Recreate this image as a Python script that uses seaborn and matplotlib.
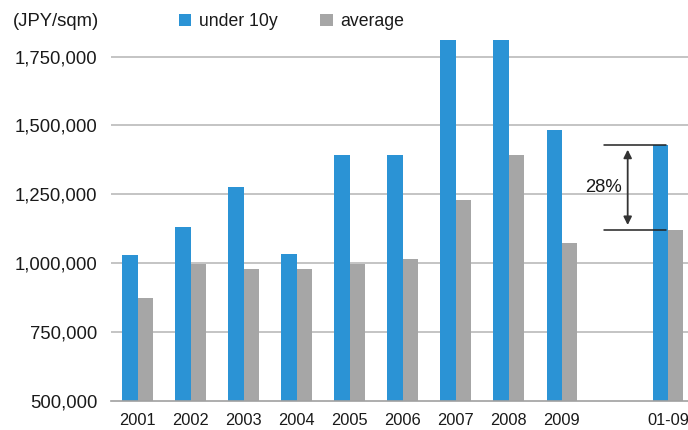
import matplotlib
matplotlib.use("Agg")
import matplotlib.pyplot as plt
import seaborn as sns
import pandas as pd
import numpy as np

categories = ["2001", "2002", "2003", "2004", "2005", "2006", "2007", "2008", "2009", " ", "01-09"]
under_10y = [1030000, 1131000, 1278000, 1031000, 1393000, 1393000, 1810000, 1810000, 1484000, np.nan, 1430000]
average = [871000, 996000, 978000, 978000, 998000, 1016000, 1229000, 1393000, 1072000, np.nan, 1120000]
series_names = ["under 10y", "average"]
y_ticks = [500000, 750000, 1000000, 1250000, 1500000, 1750000]
unit_label = "(JPY/sqm)"
diff_label = "28%"

sns.set_theme(style="white")
plt.rcParams["font.family"] = ["Liberation Sans", "DejaVu Sans"]

df = pd.DataFrame({
    "cat": categories * 2,
    "value": under_10y + average,
    "series": [series_names[0]] * len(categories) + [series_names[1]] * len(categories),
})

blue = "#2b93d5"
gray = "#a6a6a6"

fig = plt.figure(figsize=(6.88, 4.30), dpi=100)
ax = fig.add_axes([111 / 688, 1 - 400.5 / 430, 1 - 111 / 688, (400.5 - 29.2) / 430])

sns.barplot(data=df, x="cat", y="value", hue="series", order=categories,
            hue_order=series_names, palette=[blue, gray], width=0.58,
            saturation=1, ax=ax, legend=True, linewidth=0)

ax.set_ylim(500000, 1850000)
ax.set_xlim(-0.5, 10.377)
ax.set_yticks(y_ticks)
ax.set_yticklabels([f"{v:,}" for v in y_ticks], fontsize=13.3, color="#1a1a1a")
ax.tick_params(axis="x", labelsize=11.8, colors="#1a1a1a", length=0, pad=9)
ax.tick_params(axis="y", length=0, pad=10)
ax.set_xlabel("")
ax.set_ylabel("")
for v in y_ticks[1:]:
    ax.axhline(v, color="#c4c4c4", lw=1.4, zorder=0)
for s in ["top", "right", "left"]:
    ax.spines[s].set_visible(False)
ax.spines["bottom"].set_color("#a0a0a0")
ax.spines["bottom"].set_linewidth(1.2)

# legend
leg = ax.legend(loc="upper left", bbox_to_anchor=(172 / 688, 1 - 6 / 430),
                bbox_transform=fig.transFigure, ncol=2, frameon=False,
                fontsize=12.7, handlelength=0.7, handleheight=0.7,
                handletextpad=0.45, columnspacing=2.4, borderaxespad=0)
for t in leg.get_texts():
    t.set_color("#1a1a1a")

fig.text(13 / 688, 1 - 22 / 430, unit_label, fontsize=13.3, va="center", ha="left", color="#1a1a1a")

# 28% annotation
hi = under_10y[-1]
lo = average[-1]
x0, x1 = 8.79, 9.97
ax.plot([x0, x1], [hi, hi], color="#222222", lw=1.1, zorder=5)
ax.plot([x0, x1], [lo, lo], color="#222222", lw=1.1, zorder=5)
ax.annotate("", xy=(9.24, hi - 18000), xytext=(9.24, lo + 18000),
            arrowprops=dict(arrowstyle="<|-|>", color="#333333", lw=1.3,
                            mutation_scale=12, shrinkA=0, shrinkB=0), zorder=6)
ax.text(8.79, (hi + lo) / 2, diff_label, fontsize=13.3, ha="center", va="center", color="#1a1a1a")

fig.savefig("out.png", dpi=100)
